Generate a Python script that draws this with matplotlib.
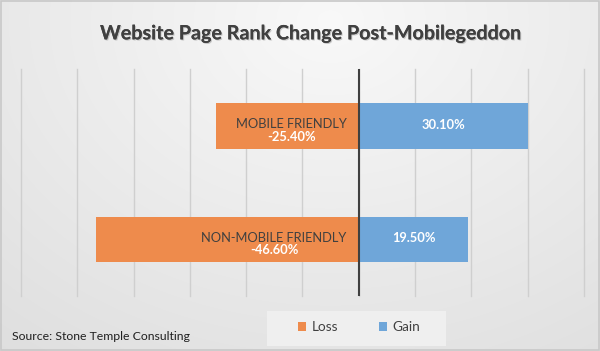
import numpy as np
import matplotlib
matplotlib.use("Agg")
import matplotlib.pyplot as plt
import matplotlib.patheffects as pe
from matplotlib.patches import Rectangle

# data
categories = ["NON-MOBILE FRIENDLY", "MOBILE FRIENDLY"]
loss = [-46.6, -25.4]
gain = [19.5, 30.1]
loss_labels = ["-46.60%", "-25.40%"]
gain_labels = ["19.50%", "30.10%"]

plt.rcParams['font.family'] = ['Lato', 'DejaVu Sans']

LOSS_COLOR = "#EE8B4C"
GAIN_COLOR = "#6FA6D9"

fig = plt.figure(figsize=(6, 3.51), dpi=100)

# gray gradient background, lighter near the top centre
bg = fig.add_axes([0, 0, 1, 1], zorder=-2)
yy, xx = np.mgrid[0:351, 0:600]
d = np.sqrt(((xx - 330) / 420.0) ** 2 + ((yy - 20) / 330.0) ** 2)
shade = np.clip(0.975 - 0.08 * d, 0.86, 0.975)
bg.imshow(np.dstack([shade] * 3), aspect="auto", extent=[0, 1, 0, 1])
bg.add_patch(Rectangle((0.001, 0.002), 0.998, 0.995, fill=False, edgecolor="#c8c8c8", lw=1.2))
bg.set_xlim(0, 1)
bg.set_ylim(0, 1)
bg.axis("off")

ax = fig.add_axes([0.035, 0.157, 0.938, 0.646])
ax.patch.set_alpha(0)
y = np.arange(len(categories))
ax.barh(y, loss, height=0.4, color=LOSS_COLOR, label="Loss", zorder=2)
ax.barh(y, gain, height=0.4, color=GAIN_COLOR, label="Gain", zorder=2)

ax.set_xlim(-60, 40)
ax.set_ylim(-0.5, 1.5)
ax.set_xticks(np.arange(-60, 41, 10))
ax.grid(axis="x", color="#cfcfcf", lw=1, zorder=0)
for gl in ax.get_xgridlines():
    gl.set_clip_on(False)
ax.axvline(0, color="#404040", lw=1.5, zorder=3)
ax.tick_params(left=False, bottom=False, labelleft=False, labelbottom=False)
for s in ax.spines.values():
    s.set_visible(False)

for i in range(len(categories)):
    # category name at the inner end of the loss bar
    ax.annotate(categories[i], xy=(0, y[i]), xytext=(-8.5, 1), textcoords="offset points",
                ha="right", va="center", fontsize=9.3, color="#404040", zorder=4)
    ax.text(gain[i] / 2, y[i] + 0.01, gain_labels[i], ha="center", va="center",
            fontsize=9.3, color="white", fontweight="bold", zorder=4)

# value centred under the category name
fig.canvas.draw()
r = fig.canvas.get_renderer()
for i in range(len(categories)):
    name = [t for t in ax.texts if t.get_text() == categories[i]][0]
    bb = name.get_window_extent(r)
    cx = (bb.x0 + bb.x1) / 2
    cy = bb.y0 - 6.5
    fig.text(cx / fig.bbox.width, cy / fig.bbox.height, loss_labels[i], ha="center", va="center",
             fontsize=9.3, color="white", fontweight="bold")

fig.text(0.519, 0.905, "Website Page Rank Change Post-Mobilegeddon", ha="center", va="center",
         fontsize=14.2, fontweight="bold", color="#404040",
         path_effects=[pe.withSimplePatchShadow(offset=(0.8, -0.8), shadow_rgbFace="#999999", alpha=0.5),
                       pe.Normal()])

fig.text(0.02, 0.04, "Source: Stone Temple Consulting", ha="left", va="center",
         fontsize=8.8, color="#202020")

fig.add_artist(Rectangle((0.445, 0.015), 0.298, 0.098, transform=fig.transFigure,
                         facecolor="#efefef", edgecolor="none", zorder=1))
fig.legend(loc="center", bbox_to_anchor=(0.598, 0.068), ncol=2, frameon=False,
           fontsize=9.8, handlelength=0.6, handleheight=0.6, handletextpad=0.4,
           columnspacing=3.0, labelcolor="#404040")

fig.savefig("out.png", dpi=100)
